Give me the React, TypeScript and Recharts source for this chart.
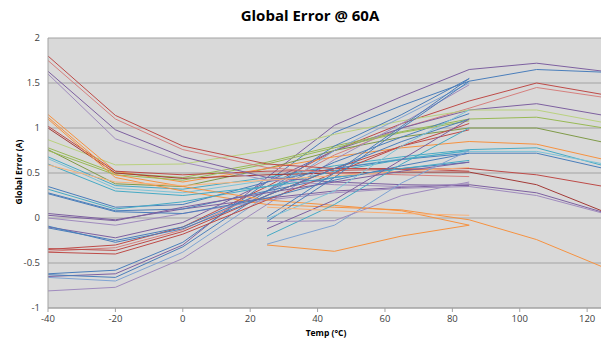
import React from "react";
import { LineChart, Line, XAxis, YAxis, CartesianGrid } from "recharts";

const temps = [-40, -20, 0, 25, 45, 65, 85, 105, 125];
const xTicks = [-40, -20, 0, 20, 40, 60, 80, 100, 120];
const yTicks = [-1, -0.5, 0, 0.5, 1, 1.5, 2];

const BLUE = "#4A7EBB";
const BLUE_LT = "#7FA3D3";
const RED = "#BE4B48";
const RED_LT = "#D5807E";
const RED_DK = "#A33A37";
const GREEN = "#98B954";
const GREEN_LT = "#B9D17F";
const OLIVE = "#7F9A48";
const PURPLE = "#7D60A0";
const PURPLE_LT = "#A08BBE";
const TEAL = "#46AAC5";
const TEAL_LT = "#7CC3D7";
const ORANGE = "#F69240";
const ORANGE_LT = "#F8B27A";

// parts measured over the whole range (-40 .. 125)
const fullRange = [
  [-0.65, -0.62, -0.3, 0.45, 1.03, 1.35, 1.65, 1.72, 1.63],
  [-0.62, -0.58, -0.27, 0.4, 0.95, 1.25, 1.52, 1.65, 1.62],
  [-0.35, -0.3, -0.1, 0.35, 0.75, 1.05, 1.3, 1.5, 1.37],
  [-0.37, -0.33, -0.13, 0.3, 0.7, 1.0, 1.22, 1.45, 1.34],
  [-0.1, -0.22, -0.05, 0.4, 0.75, 1.0, 1.2, 1.27, 1.14],
  [0.87, 0.59, 0.6, 0.75, 0.93, 1.08, 1.2, 1.2, 1.06],
  [0.78, 0.5, 0.45, 0.62, 0.8, 0.96, 1.1, 1.12, 1.0],
  [0.76, 0.38, 0.35, 0.55, 0.75, 0.9, 1.0, 1.0, 0.84],
  [1.15, 0.52, 0.4, 0.55, 0.68, 0.78, 0.85, 0.82, 0.65],
  [0.68, 0.36, 0.32, 0.45, 0.58, 0.68, 0.76, 0.78, 0.58],
  [0.66, 0.33, 0.28, 0.42, 0.55, 0.66, 0.74, 0.74, 0.6],
  [0.35, 0.12, 0.15, 0.4, 0.55, 0.65, 0.72, 0.72, 0.55],
  [1.02, 0.52, 0.48, 0.52, 0.53, 0.54, 0.55, 0.48, 0.35],
  [0.05, -0.02, 0.1, 0.22, 0.3, 0.34, 0.37, 0.28, 0.06],
  [0.0, -0.08, 0.05, 0.2, 0.28, 0.33, 0.35, 0.25, 0.05],
  [1.0, 0.5, 0.44, 0.48, 0.5, 0.51, 0.51, 0.37, 0.07],
  [1.1, 0.45, 0.3, 0.15, 0.12, 0.09, -0.02, -0.24, -0.55],
];
const fullRangeColors = [
  PURPLE, BLUE, RED, RED_LT, PURPLE, GREEN_LT, GREEN, OLIVE, ORANGE,
  TEAL, TEAL_LT, BLUE, RED, PURPLE, PURPLE_LT, RED_DK, ORANGE,
];

// parts measured -40 .. 85
const coldToHot = [
  [-0.63, -0.66, -0.32, 0.3, 0.8, 1.15, 1.55],
  [-0.66, -0.7, -0.38, 0.25, 0.75, 1.12, 1.5],
  [-0.81, -0.77, -0.45, 0.15, 0.65, 1.05, 1.48],
  [-0.11, -0.25, -0.1, 0.3, 0.62, 0.9, 1.16],
  [0.75, 0.48, 0.42, 0.6, 0.78, 0.95, 1.08],
  [0.28, 0.08, 0.1, 0.3, 0.45, 0.55, 0.62],
  [0.32, 0.1, 0.18, 0.35, 0.52, 0.65, 0.75],
  [-0.38, -0.4, -0.18, 0.2, 0.5, 0.8, 1.05],
  [1.8, 1.14, 0.8, 0.6, 0.55, 0.55, 0.52],
  [1.75, 1.1, 0.76, 0.56, 0.5, 0.48, 0.46],
  [1.63, 0.98, 0.68, 0.45, 0.4, 0.37, 0.36],
  [1.6, 0.88, 0.62, 0.42, 0.37, 0.35, 0.38],
  [1.12, 0.48, 0.35, 0.2, 0.14, 0.08, -0.08],
  [0.6, 0.3, 0.25, 0.35, 0.45, 0.55, 0.64],
  [0.59, 0.4, 0.36, 0.42, 0.47, 0.52, 0.56],
  [0.27, 0.07, 0.05, 0.22, 0.42, 0.58, 0.72],
  [0.03, -0.03, 0.12, 0.28, 0.4, 0.52, 0.62],
  [-0.34, -0.36, -0.15, 0.25, 0.55, 0.8, 0.98],
  [-0.09, -0.27, -0.12, 0.25, 0.55, 0.85, 1.1],
];
const coldToHotColors = [
  BLUE, BLUE_LT, PURPLE_LT, BLUE, GREEN, BLUE, TEAL, RED, RED, RED_LT,
  PURPLE, PURPLE_LT, ORANGE, TEAL, ORANGE_LT, BLUE, PURPLE, RED, BLUE,
];

// parts measured 25 .. 85
const roomToHot = [
  [-0.3, -0.37, -0.2, -0.08],
  [-0.29, -0.08, 0.39, 0.75],
  [-0.2, 0.15, 0.6, 1.0],
  [-0.12, 0.2, 0.65, 1.1],
  [-0.04, 0.45, 1.0, 1.52],
  [0.01, 0.5, 1.02, 1.55],
  [-0.01, 0.3, 0.8, 1.2],
  [-0.04, -0.03, 0.25, 0.4],
  [0.12, 0.08, 0.05, 0.03],
];
const roomToHotColors = [
  ORANGE, BLUE_LT, TEAL, PURPLE, BLUE, BLUE, TEAL_LT, PURPLE_LT, ORANGE_LT,
];

type Series = { values: (number | null)[]; color: string };

const series: Series[] = [
  ...fullRange.map((v, i) => ({ values: v, color: fullRangeColors[i] })),
  ...coldToHot.map((v, i) => ({
    values: [...v, null, null],
    color: coldToHotColors[i],
  })),
  ...roomToHot.map((v, i) => ({
    values: [null, null, null, ...v, null, null],
    color: roomToHotColors[i],
  })),
];

const data = temps.map((t, i) => {
  const row: Record<string, number> = { temp: t };
  series.forEach((s, k) => {
    const v = s.values[i];
    if (v !== null && v !== undefined) row[`s${k}`] = v;
  });
  return row;
});

const FONT = '"Open Sans", sans-serif';

export default function App() {
  return (
    <div
      style={{
        position: "fixed",
        left: 0,
        top: 0,
        width: 601,
        height: 344,
        overflow: "hidden",
        fontFamily: FONT,
        background: "#fff",
      }}
    >
      <LineChart
        width={604}
        height={344}
        data={data}
        margin={{ top: 38, right: 0, bottom: 0, left: 0 }}
      >
        <CartesianGrid vertical={false} fill="#D9D9D9" stroke="#A3A3A3" />
        <XAxis
          dataKey="temp"
          type="number"
          domain={[-40, 125]}
          ticks={xTicks}
          height={36}
          stroke="#A3A3A3"
          tickSize={4}
          tickMargin={3}
          tick={{ fill: "#404040", fontSize: 9.5, fontFamily: FONT }}
        />
        <YAxis
          type="number"
          domain={[-1, 2]}
          ticks={yTicks}
          width={48}
          stroke="#A3A3A3"
          tickSize={0}
          tickMargin={8}
          tick={{ fill: "#404040", fontSize: 9.5, fontFamily: FONT }}
        />
        {series.map((s, k) => (
          <Line
            key={`s${k}`}
            dataKey={`s${k}`}
            stroke={s.color}
            strokeWidth={1}
            dot={false}
            activeDot={false}
            connectNulls={false}
            isAnimationActive={false}
          />
        ))}
      </LineChart>
      <svg
        width={601}
        height={344}
        style={{ position: "absolute", left: 0, top: 0, pointerEvents: "none" }}
      >
        <text
          x={310}
          y={21}
          textAnchor="middle"
          fontFamily={FONT}
          fontWeight="bold"
          fontSize={15}
          fill="#000"
        >
          Global Error @ 60A
        </text>
        <text
          x={18}
          y={172}
          transform="rotate(-90 18 172)"
          textAnchor="middle"
          dominantBaseline="central"
          fontFamily={FONT}
          fontWeight="bold"
          fontSize={8.5}
          fill="#000"
        >
          Global Error (A)
        </text>
        <text
          x={326}
          y={336}
          textAnchor="middle"
          fontFamily={FONT}
          fontWeight="bold"
          fontSize={8.5}
          fill="#000"
        >
          Temp (°C)
        </text>
      </svg>
    </div>
  );
}
